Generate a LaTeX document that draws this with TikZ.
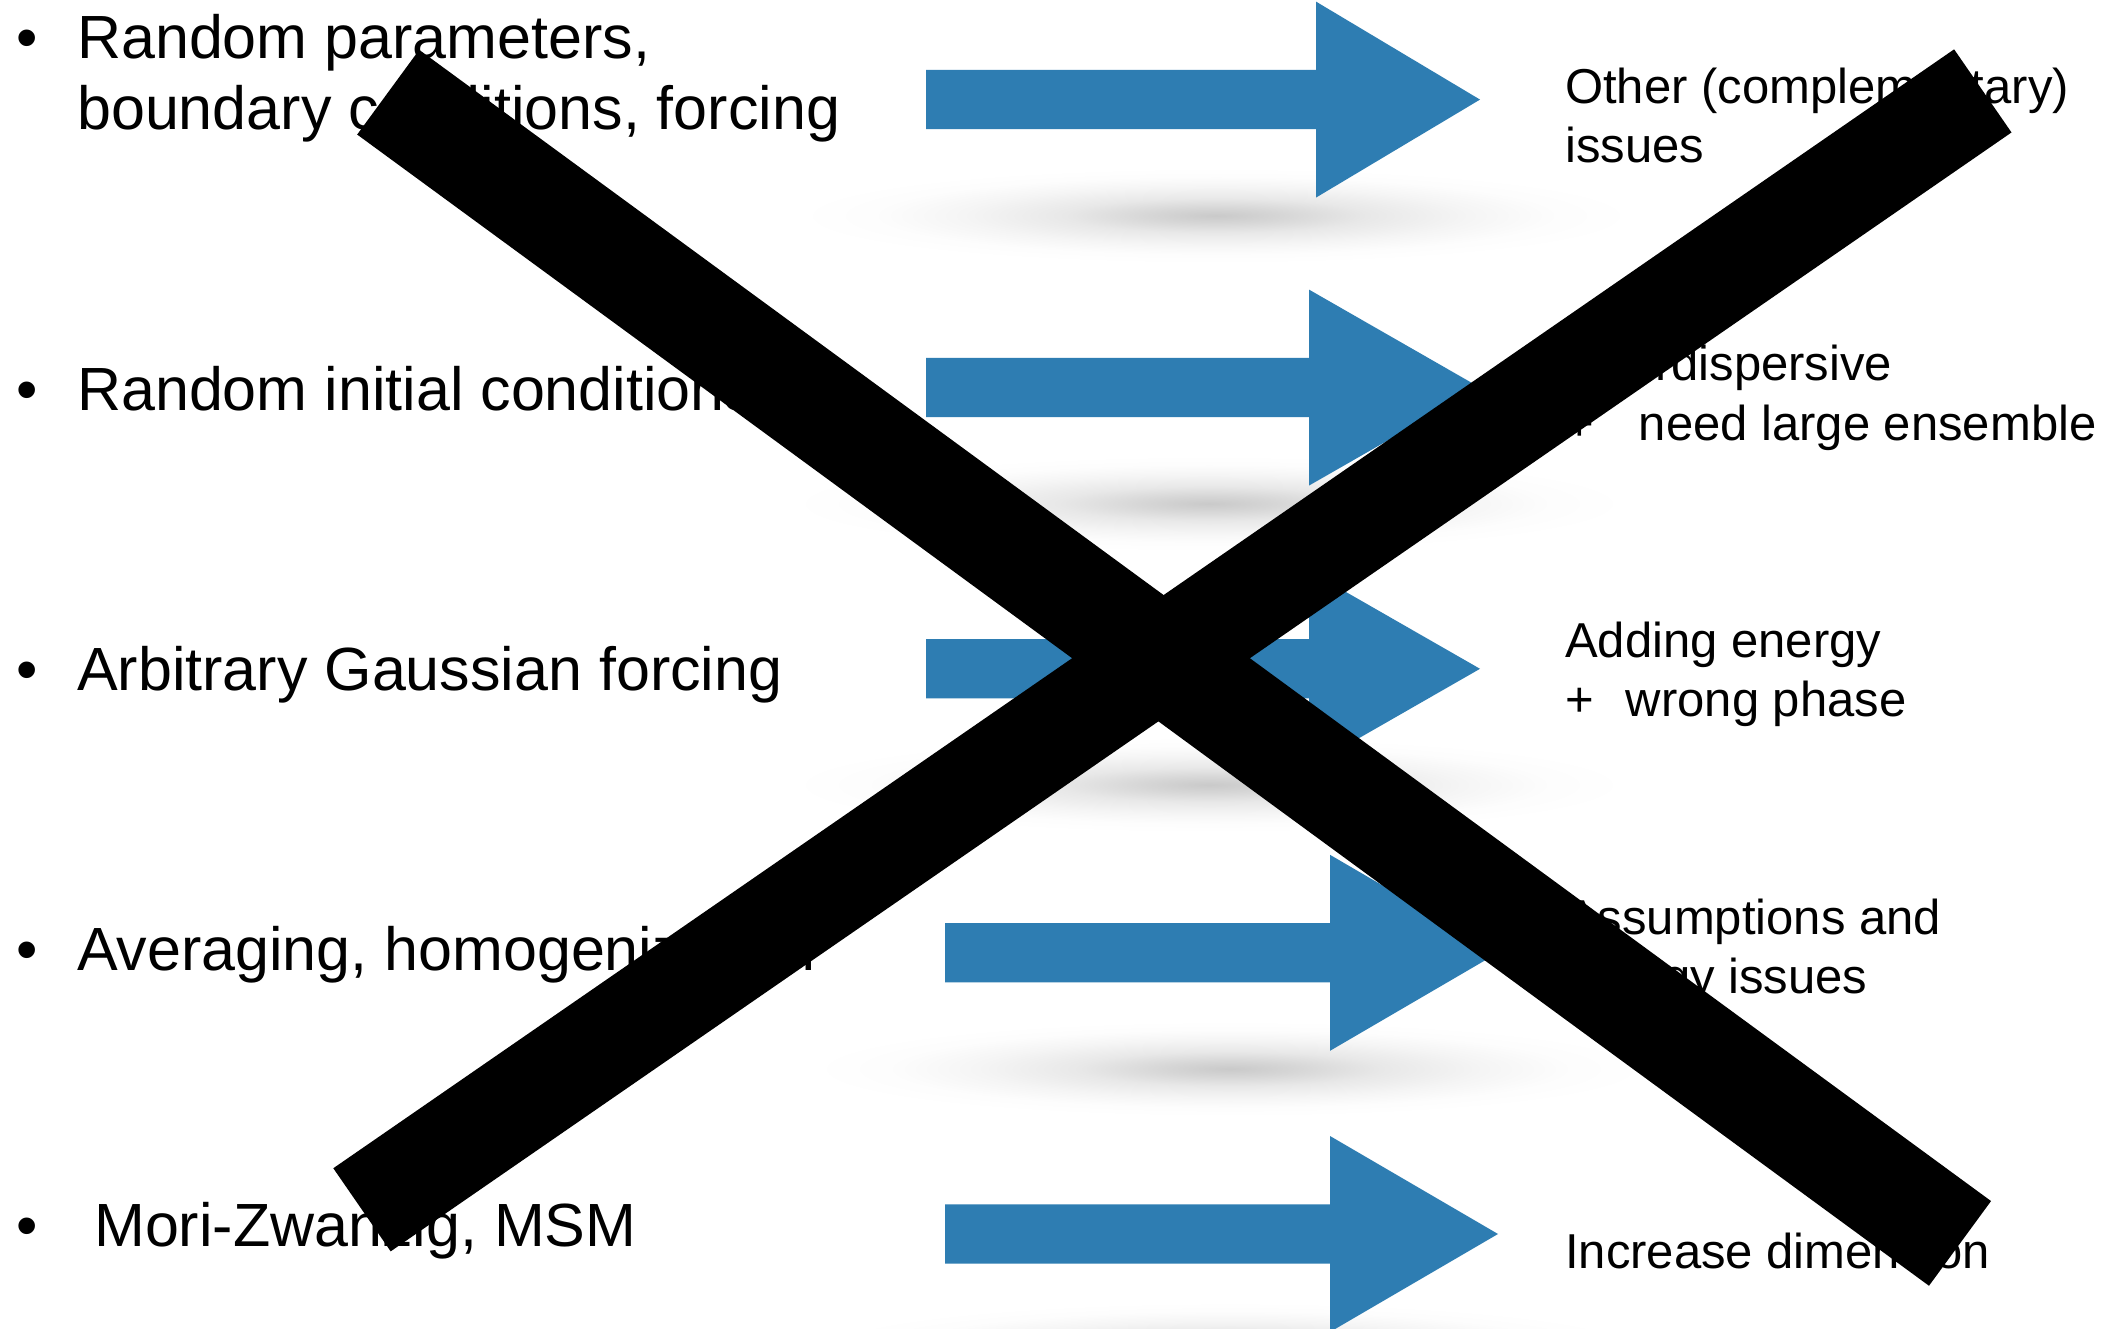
\documentclass[tikz,border=0pt]{standalone}
\usepackage{fontspec}
\setmainfont{Liberation Sans}
\definecolor{arrowblue}{RGB}{46,125,178}
\pgfdeclareradialshading{arrshadow}{\pgfpoint{0bp}{0bp}}{color(0bp)=(black!21); color(4bp)=(black!16); color(9bp)=(black!9); color(15bp)=(black!4); color(20bp)=(black!1); color(25bp)=(white); color(50bp)=(white)}
\newcommand{\bigarrow}[5]{% name, xl, xb, xt, yc
  \shade[shading=arrshadow] (#3-100,#5+116) ellipse [x radius=420pt, y radius=48pt];
  \fill[arrowblue] (#2,#5-29.6) -- (#3,#5-29.6) -- (#3,#5-98) -- (#4,#5)
    -- (#3,#5+98) -- (#3,#5+29.6) -- (#2,#5+29.6) -- cycle;
  \coordinate (#1) at (#4,#5);
}
\tikzset{
  lefttxt/.style={anchor=base west, inner sep=0pt, font=\fontsize{61pt}{71pt}\selectfont},
  bullettxt/.style={anchor=base, inner sep=0pt, font=\fontsize{61pt}{71pt}\selectfont},
  righttxt/.style={anchor=base west, inner sep=0pt, font=\fontsize{49pt}{59pt}\selectfont},
  xbar/.style={line width=#1, line cap=butt, black},
}
\begin{document}
\begin{tikzpicture}[x=1pt,y=-1pt]
\useasboundingbox (0,0) rectangle (2110,1329);
\clip (0,0) rectangle (2110,1329);
\fill[white] (0,0) rectangle (2110,1329);

% arrows with shadows
\bigarrow{arr1}{926}{1316}{1480}{99.6}
\bigarrow{arr2}{926}{1309}{1480}{387.6}
\bigarrow{arr3}{926}{1309}{1480}{668.8}
\bigarrow{arr4}{945}{1330}{1498}{952.8}
\bigarrow{arr5}{945}{1330}{1498}{1234}

% left bullets
\node[bullettxt] (b1) at (27,59) {•};
\node[bullettxt] (b2) at (27,410) {•};
\node[bullettxt] (b3) at (27,690) {•};
\node[bullettxt] (b4) at (27,970) {•};
\node[bullettxt] (b5) at (27,1246) {•};

% left texts
\node[lefttxt] (l1a) at (77,59) {Random parameters,};
\node[lefttxt] (l1b) at (77,130) {boundary conditions, forcing};
\node[lefttxt] (l2) at (77,410) {Random initial conditions};
\node[lefttxt] (l3) at (77,690) {Arbitrary Gaussian forcing};
\node[lefttxt] (l4) at (77,970) {Averaging, homogenization};
\node[lefttxt] (l5) at (94,1246) {Mori-Zwanzig, MSM};

% right texts
\node[righttxt] (r1a) at (1565,104) {Other (complementary)};
\node[righttxt] (r1b) at (1565,163) {issues};
\node[righttxt] (r2a) at (1565,381) {Overdispersive};
\node[righttxt] (r2b) at (1565,440) {+\hspace{45pt}need large ensemble};
\node[righttxt] (r3a) at (1565,657) {Adding energy};
\node[righttxt] (r3b) at (1565,716) {+\hspace{32pt}wrong phase};
\node[righttxt] (r4a) at (1565,934) {Assumptions and};
\node[righttxt] (r4b) at (1565,993) {energy issues};
\node[righttxt] (r5) at (1565,1268) {Increase dimension};

% the big cross
\coordinate (xa1) at (388.2,92.2);
\coordinate (xa2) at (1960,1243.4);
\coordinate (xb1) at (362,1209.8);
\coordinate (xb2) at (1982.8,90.9);
\draw[xbar=105pt] (xa1) -- (xa2);
\draw[xbar=101pt] (xb1) -- (xb2);
\end{tikzpicture}
\end{document}
